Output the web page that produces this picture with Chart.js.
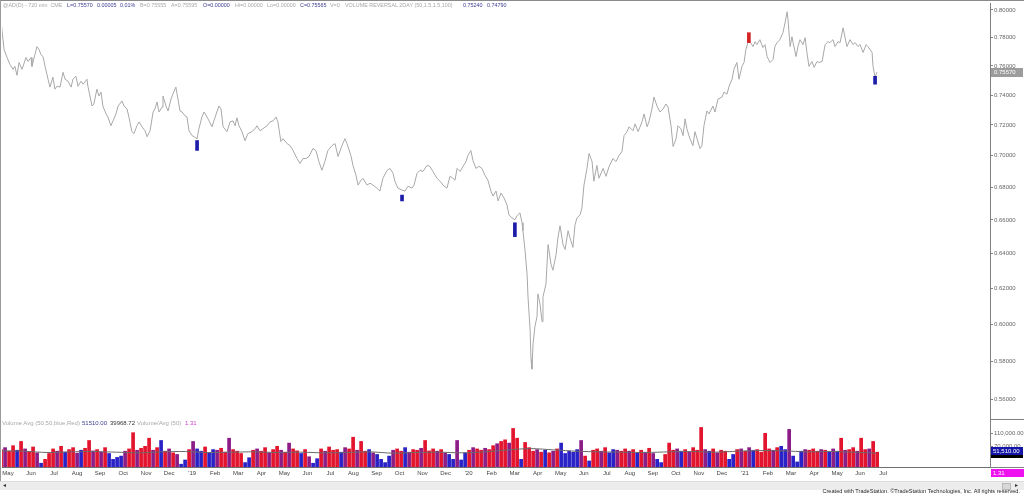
<!DOCTYPE html>
<html>
<head>
<meta charset="utf-8">
<script src="https://cdn.jsdelivr.net/npm/chart.js@4.4.1/dist/chart.umd.min.js"></script>
<style>
html,body{margin:0;padding:0;background:#fff;}
body{width:1024px;height:495px;position:relative;overflow:hidden;font-family:"Liberation Sans",Arial,sans-serif;}
.abs{position:absolute;}
.t{position:absolute;font-size:6px;line-height:7px;white-space:pre;}
.h{font-size:5.4px;}
.g{color:#a8a8a8}.b{color:#3c3c94}.k{color:#333}.m{color:#cc44cc}
</style>
</head>
<body>
<canvas id="pc" class="abs" style="left:0;top:0;width:1024px;height:420px" width="1024" height="420"></canvas>
<canvas id="vc" class="abs" style="left:0;top:419px;width:1024px;height:62px" width="1024" height="62"></canvas>

<div class="abs" style="left:0;top:0;width:1024px;height:1px;background:#8a8a8a"></div>
<div class="abs" style="left:0;top:0;width:1px;height:481px;background:#9a9a9a"></div>
<div class="abs" style="left:990px;top:419px;width:34px;height:1px;background:#808080"></div>
<div class="abs" style="left:990px;top:467px;width:34px;height:1px;background:#808080"></div>

<div class="t h g" style="left:3px;top:2px">@AD(D) - 720 min  CME</div>
<div class="t h b" style="left:67px;top:2px">L=0.75570</div>
<div class="t h b" style="left:97px;top:2px">0.00005</div>
<div class="t h b" style="left:120px;top:2px">0.01%</div>
<div class="t h g" style="left:140px;top:2px">B=0.75555</div>
<div class="t h g" style="left:171px;top:2px">A=0.75595</div>
<div class="t h b" style="left:203px;top:2px">O=0.00000</div>
<div class="t h g" style="left:235px;top:2px">Hi=0.00000</div>
<div class="t h g" style="left:267px;top:2px">Lo=0.00000</div>
<div class="t h b" style="left:300px;top:2px">C=0.75565</div>
<div class="t h g" style="left:330px;top:2px">V=0</div>
<div class="t h g" style="left:345px;top:2px">VOLUME REVERSAL 2DAY (50,1.5,1.5,100)</div>
<div class="t h b" style="left:463px;top:2px">0.75240</div>
<div class="t h b" style="left:487px;top:2px">0.74790</div>

<div class="t g" style="left:2px;top:420px">Volume Avg (50,50,blue,Red)</div>
<div class="t b" style="left:82px;top:420px">51510.00</div>
<div class="t k" style="left:110px;top:420px">39968.72</div>
<div class="t g" style="left:137px;top:420px">Volume/Avg (50)</div>
<div class="t m" style="left:185px;top:420px">1.31</div>

<div class="abs" style="left:0;top:481px;width:1024px;height:8px;background:#ececec;border-top:1px solid #dcdcdc"></div>
<div class="t k" style="left:3px;top:482px;font-size:6px">◂</div>
<div class="abs" style="left:1002px;top:483px;width:7px;height:5px;background:#d8d8d8;border:1px solid #b8b8b8"></div>
<div class="t k" style="left:1015px;top:482px;font-size:6px">▸</div>
<div class="t k" style="right:4px;top:488px;font-size:5.6px;color:#222">Created with TradeStation. ©TradeStation Technologies, Inc. All rights reserved.</div>

<script>
// ---------- data ----------
const monthLabels = ["May","Jun","Jul","Aug","Sep","Oct","Nov","Dec","'19","Feb","Mar","Apr","May","Jun","Jul","Aug","Sep","Oct","Nov","Dec","'20","Feb","Mar","Apr","May","Jun","Jul","Aug","Sep","Oct","Nov","Dec","'21","Feb","Mar","Apr","May","Jun","Jul"];
const priceTicks = [0.56,0.58,0.60,0.62,0.64,0.66,0.68,0.70,0.72,0.74,0.76,0.78,0.80];
const volumeTicks = [70000,110000];

// time in months since 1 May 2018
const priceT = [-0.28,-0.17,-0.04,0.09,0.22,0.30,0.39,0.48,0.61,0.78,0.87,1.00,1.04,1.17,1.26,1.35,1.43,1.52,1.61,1.74,1.82,1.95,2.04,2.13,2.26,2.39,2.48,2.61,2.74,2.82,2.95,3.04,3.17,3.26,3.43,3.47,3.65,3.73,3.86,3.95,4.04,4.12,4.26,4.34,4.47,4.56,4.69,4.78,4.95,5.04,5.17,5.25,5.38,5.47,5.60,5.69,5.82,5.95,6.04,6.17,6.30,6.38,6.47,6.56,6.69,6.73,6.86,6.95,7.08,7.16,7.29,7.38,7.47,7.56,7.69,7.77,7.86,7.99,8.08,8.21,8.29,8.42,8.51,8.64,8.73,8.86,8.94,9.07,9.16,9.25,9.34,9.51,9.64,9.77,9.86,9.94,10.03,10.16,10.29,10.42,10.59,10.73,10.81,10.94,11.07,11.25,11.38,11.51,11.64,11.72,11.85,11.94,12.12,12.25,12.38,12.55,12.68,12.81,12.94,13.07,13.24,13.37,13.50,13.63,13.76,13.89,14.07,14.20,14.33,14.50,14.63,14.72,14.89,14.98,15.11,15.20,15.33,15.41,15.59,15.72,15.85,16.02,16.15,16.28,16.46,16.59,16.72,16.80,16.93,17.11,17.24,17.37,17.54,17.63,17.76,17.89,18.02,18.19,18.32,18.45,18.63,18.76,18.89,19.06,19.19,19.32,19.41,19.50,19.63,19.76,19.89,19.97,20.10,20.19,20.32,20.45,20.58,20.71,20.84,20.97,21.06,21.19,21.28,21.41,21.54,21.67,21.75,21.88,22.01,22.10,22.23,22.32,22.36,22.45,22.54,22.58,22.67,22.71,22.75,22.80,22.88,22.97,23.01,23.10,23.19,23.23,23.36,23.45,23.58,23.66,23.80,23.88,23.97,24.10,24.19,24.32,24.40,24.53,24.62,24.71,24.84,24.92,25.01,25.14,25.23,25.36,25.44,25.57,25.66,25.84,25.97,26.10,26.27,26.40,26.53,26.66,26.75,26.88,26.97,27.14,27.23,27.36,27.53,27.62,27.75,27.83,27.96,28.05,28.18,28.31,28.44,28.57,28.66,28.79,28.88,29.01,29.09,29.22,29.31,29.40,29.48,29.61,29.74,29.83,29.92,30.05,30.13,30.22,30.35,30.44,30.61,30.70,30.83,31.00,31.09,31.22,31.31,31.44,31.52,31.65,31.74,31.87,31.96,32.04,32.13,32.22,32.35,32.44,32.52,32.65,32.78,32.87,32.96,33.09,33.22,33.30,33.39,33.52,33.65,33.74,33.83,33.87,33.96,34.04,34.09,34.22,34.30,34.39,34.52,34.61,34.69,34.78,34.91,35.00,35.13,35.22,35.35,35.48,35.61,35.69,35.82,35.91,36.04,36.13,36.26,36.34,36.43,36.56,36.69,36.78,36.91,37.00,37.13,37.26,37.34,37.52,37.56,37.65,37.73];
const priceV = [0.7885,0.7715,0.7659,0.7610,0.7576,0.7597,0.7535,0.7624,0.7576,0.7659,0.7631,0.7659,0.7597,0.7680,0.7736,0.7715,0.7680,0.7666,0.7597,0.7508,0.7454,0.7522,0.7440,0.7460,0.7454,0.7556,0.7508,0.7494,0.7454,0.7508,0.7528,0.7460,0.7494,0.7474,0.7508,0.7460,0.7326,0.7340,0.7440,0.7393,0.7420,0.7326,0.7273,0.7253,0.7195,0.7227,0.7273,0.7326,0.7360,0.7326,0.7306,0.7253,0.7156,0.7143,0.7195,0.7220,0.7188,0.7162,0.7123,0.7162,0.7286,0.7306,0.7353,0.7286,0.7319,0.7393,0.7326,0.7293,0.7373,0.7406,0.7454,0.7373,0.7293,0.7286,0.7260,0.7253,0.7162,0.7130,0.7123,0.7110,0.7175,0.7253,0.7286,0.7253,0.7227,0.7188,0.7227,0.7286,0.7326,0.7306,0.7188,0.7156,0.7220,0.7227,0.7195,0.7247,0.7195,0.7156,0.7097,0.7143,0.7156,0.7175,0.7195,0.7162,0.7175,0.7195,0.7220,0.7227,0.7253,0.7220,0.7091,0.7110,0.7078,0.7065,0.7033,0.6982,0.6950,0.6982,0.6982,0.6995,0.7046,0.7033,0.6963,0.6907,0.6963,0.7033,0.7065,0.7078,0.6995,0.7065,0.7110,0.7078,0.7001,0.6938,0.6876,0.6814,0.6845,0.6857,0.6814,0.6826,0.6814,0.6795,0.6777,0.6857,0.6907,0.6919,0.6888,0.6838,0.6795,0.6783,0.6777,0.6807,0.6795,0.6814,0.6888,0.6907,0.6900,0.6938,0.6932,0.6900,0.6857,0.6838,0.6814,0.6795,0.6869,0.6857,0.6845,0.6919,0.6900,0.6932,0.6963,0.7001,0.7033,0.6969,0.6919,0.6932,0.6919,0.6876,0.6845,0.6777,0.6746,0.6777,0.6716,0.6765,0.6734,0.6691,0.6631,0.6613,0.6601,0.6625,0.6643,0.6583,0.6535,0.6419,0.6280,0.6151,0.5970,0.5809,0.5757,0.5894,0.5986,0.6040,0.6168,0.6112,0.6013,0.6151,0.6224,0.6453,0.6337,0.6303,0.6395,0.6494,0.6565,0.6453,0.6424,0.6535,0.6494,0.6436,0.6571,0.6613,0.6631,0.6673,0.6814,0.6919,0.7014,0.6963,0.6838,0.6938,0.6857,0.6919,0.6869,0.6932,0.6982,0.6963,0.7001,0.7027,0.7130,0.7156,0.7188,0.7162,0.7207,0.7156,0.7220,0.7273,0.7188,0.7220,0.7306,0.7386,0.7326,0.7286,0.7306,0.7340,0.7319,0.7195,0.7059,0.7110,0.7195,0.7175,0.7130,0.7240,0.7175,0.7110,0.7065,0.7156,0.7110,0.7046,0.7065,0.7195,0.7293,0.7273,0.7326,0.7286,0.7373,0.7386,0.7420,0.7406,0.7460,0.7508,0.7576,0.7624,0.7508,0.7597,0.7624,0.7715,0.7764,0.7771,0.7736,0.7771,0.7750,0.7785,0.7729,0.7750,0.7666,0.7624,0.7645,0.7736,0.7764,0.7785,0.7835,0.7906,0.7986,0.7928,0.7736,0.7806,0.7764,0.7666,0.7736,0.7785,0.7750,0.7799,0.7694,0.7597,0.7631,0.7590,0.7631,0.7624,0.7631,0.7750,0.7771,0.7764,0.7785,0.7736,0.7771,0.7764,0.7870,0.7806,0.7736,0.7785,0.7750,0.7764,0.7736,0.7750,0.7694,0.7750,0.7736,0.7694,0.7597,0.7522,0.7557];

// volume-reversal markers
const revT  = [8.21, 17.11, 22.01, 32.17, 37.65];
const revLo = [0.7034, 0.6716, 0.6500, 0.7764, 0.7474];
const revHi = [0.7098, 0.6752, 0.6583, 0.7835, 0.7528];
const revDir = ["b","b","b","r","b"];

// volume bars (one every ~0.174 month from -0.30)
const volStart = -0.30, volStep = 0.1737;
const volume = [
60000,66000,55000,72000,58000,85000,62000,54000,68000,50000,18000,30000,
48000,62000,55000,70000,52000,60000,66000,49000,58000,64000,88000,56000,
60000,52000,66000,48000,30000,36000,40000,55000,62000,112000,58000,64000,
70000,95000,58000,66000,88000,55000,62000,50000,45000,15000,28000,60000,
85000,62000,55000,68000,50000,60000,58000,64000,52000,95000,60000,55000,
48000,20000,35000,58000,62000,55000,66000,50000,60000,70000,58000,52000,
80000,62000,56000,48000,60000,38000,18000,32000,62000,55000,68000,58000,
60000,52000,66000,62000,98000,58000,85000,55000,60000,50000,45000,30000,
20000,40000,58000,62000,55000,66000,52000,60000,58000,64000,88000,56000,
62000,55000,60000,50000,45000,30000,88000,28000,50000,58000,66000,62000,
58000,64000,60000,72000,78000,85000,90000,80000,125000,95000,30000,82000,
66000,55000,60000,52000,58000,50000,55000,62000,80000,48000,55000,52000,
60000,88000,40000,25000,58000,62000,55000,66000,50000,60000,58000,55000,
62000,55000,60000,50000,58000,52000,64000,48000,30000,20000,45000,80000,
58000,62000,55000,60000,52000,66000,58000,128000,60000,55000,62000,50000,
58000,55000,30000,45000,60000,62000,55000,66000,58000,60000,52000,110000,
62000,58000,66000,70000,60000,122000,40000,22000,55000,60000,58000,62000,
55000,60000,58000,52000,62000,55000,95000,58000,60000,66000,55000,95000,
60000,62000,85000,52000];
const volColor = "rprrbrprrpbr"+"rrprbrrpbrrp"+"rprbbbbprrpr"+"rrprbrprpbbr"+"pbbrbbprrprr"+"rbbrprrprrpr"+"prrbrpbbrprr"+"rbprrprrbpbb"+"bbprrbprrprr"+"rprpbbpbbrpr"+"rprrprrprrbr"+"rrprbrprbbbb"+"bprbrrprbbpr"+"rprbrprpbbrr"+"rpbrprrrpbrp"+"rrbbrprpbrrr"+"rprbbpbbbprr"+"rprbpbrprrpr"+"rprr";

// 50-bar average of volume, sampled monthly
const avgT = [-0.3,0.7,1.7,2.7,3.7,4.7,5.7,6.7,7.7,8.7,9.7,10.7,11.7,12.7,13.7,14.7,15.7,16.7,17.7,18.7,19.7,20.7,21.7,22.7,23.7,24.7,25.7,26.7,27.7,28.7,29.7,30.7,31.7,32.7,33.7,34.7,35.7,36.7,37.7];
const avgV = [55000,54000,50000,52000,53000,51000,49000,52000,53000,50000,51000,52000,50000,51000,49000,50000,52000,48000,50000,51000,49000,52000,58000,62000,58000,54000,52000,51000,50000,52000,53000,51000,54000,56000,55000,52000,53000,51000,48000];

const lastPrice = 0.75570, lastVolume = 51510, volRatio = 1.31;

// ---------- rendering ----------
const X_MIN = -0.26, X_MAX = 42.64;
const FONT = "Liberation Sans";
const COL = {r:"#e3142e", b:"#2a22c6", p:"#8c1c86"};

const lastPricePlugin = {
  id:"lastPrice",
  afterDraw(c){
    const s = c.scales.y, ctx = c.ctx, y = s.getPixelForValue(lastPrice);
    ctx.save();
    ctx.fillStyle = "#9c9c9c";
    ctx.fillRect(s.left+1, Math.round(y)-4, 32, 9);
    ctx.fillStyle = "#fff";
    ctx.font = "6px '"+FONT+"'";
    ctx.textBaseline = "middle";
    ctx.fillText(lastPrice.toFixed(5), s.left+4, Math.round(y)+0.5);
    ctx.restore();
  }
};

new Chart(document.getElementById("pc"), {
  type:"line",
  data:{datasets:[
    {type:"line", data: priceT.map((t,i)=>({x:t,y:priceV[i]})), borderColor:"#a8a8a8", borderWidth:1, pointRadius:0, tension:0, order:2},
    {type:"bar", data: revT.map((t,i)=>({x:t,y:[revLo[i],revHi[i]]})), backgroundColor: revDir.map(d=>d==="r"?"#d42424":"#1c1ca8"), barThickness:3, order:1}
  ]},
  options:{
    responsive:false, animation:false, events:[],
    layout:{padding:{top:3,bottom:1,left:2,right:0}},
    plugins:{legend:{display:false}, tooltip:{enabled:false}},
    scales:{
      x:{type:"linear", min:X_MIN, max:X_MAX, display:false, offset:false},
      y:{type:"logarithmic", position:"right", min:0.5519, max:0.8051,
         afterBuildTicks:s=>{s.ticks = priceTicks.map(v=>({value:v}));},
         afterFit:s=>{s.width=34; s.paddingTop=0; s.paddingBottom=0;},
         grid:{drawOnChartArea:false, drawTicks:true, tickLength:3, color:"#808080"},
         border:{display:true, color:"#808080"},
         ticks:{color:"#666", font:{family:FONT, size:6}, padding:1, callback:v=>Number(v).toFixed(5)}
      }
    }
  },
  plugins:[lastPricePlugin]
});

const volBoxPlugin = {
  id:"volBox",
  afterDraw(c){
    const s = c.scales.y, ctx = c.ctx, y = Math.round(s.getPixelForValue(lastVolume));
    ctx.save();
    ctx.font = "6px '"+FONT+"'";
    ctx.textBaseline = "middle";
    ctx.fillStyle = "#1414a8";
    ctx.fillRect(s.left+1, y-5, 32, 10);
    ctx.fillStyle = "#000";
    ctx.fillRect(s.left+1, y+3, 32, 3);
    ctx.fillStyle = "#fff";
    ctx.fillText("51,510.00", s.left+3, y-1);
    const yb = s.bottom;
    ctx.fillStyle = "#ee10ee";
    ctx.fillRect(s.left+1, yb+2, 33, 8);
    ctx.fillStyle = "#fff";
    ctx.fillText(volRatio.toFixed(2), s.left+3, yb+6);
    ctx.restore();
  }
};

new Chart(document.getElementById("vc"), {
  type:"bar",
  data:{datasets:[
    {type:"line", data: avgT.map((t,i)=>({x:t,y:avgV[i]})), borderColor:"#6a6a6a", borderWidth:1, pointRadius:0, tension:0.3, order:1},
    {type:"bar", data: volume.map((v,i)=>({x:volStart+i*volStep, y:v})), backgroundColor: volume.map((v,i)=>COL[volColor[i]]), barPercentage:0.92, categoryPercentage:1, order:2}
  ]},
  options:{
    responsive:false, animation:false, events:[],
    layout:{padding:{top:1,bottom:0,left:2,right:0}},
    plugins:{legend:{display:false}, tooltip:{enabled:false}},
    scales:{
      x:{type:"linear", min:X_MIN, max:X_MAX, offset:false, position:"bottom",
         afterBuildTicks:s=>{s.ticks = monthLabels.map((_,i)=>({value:i}));},
         afterFit:s=>{s.height=14; s.paddingLeft=0; s.paddingRight=0;},
         grid:{display:false, drawTicks:false, tickLength:0},
         border:{display:true, color:"#707070"},
         ticks:{autoSkip:false, maxRotation:0, minRotation:0, color:"#444", font:{family:FONT, size:6}, padding:3, callback:v=>monthLabels[v]}
      },
      y:{position:"right", min:5400, max:150000,
         afterBuildTicks:s=>{s.ticks = volumeTicks.map(v=>({value:v}));},
         afterFit:s=>{s.width=34; s.paddingTop=0; s.paddingBottom=0;},
         grid:{drawOnChartArea:false, drawTicks:true, tickLength:3, color:"#808080"},
         border:{display:true, color:"#808080"},
         ticks:{color:"#666", font:{family:FONT, size:6}, padding:1, callback:v=>Number(v).toLocaleString("en-US",{minimumFractionDigits:2, maximumFractionDigits:2})}
      }
    }
  },
  plugins:[volBoxPlugin]
});
</script>
</body>
</html>
